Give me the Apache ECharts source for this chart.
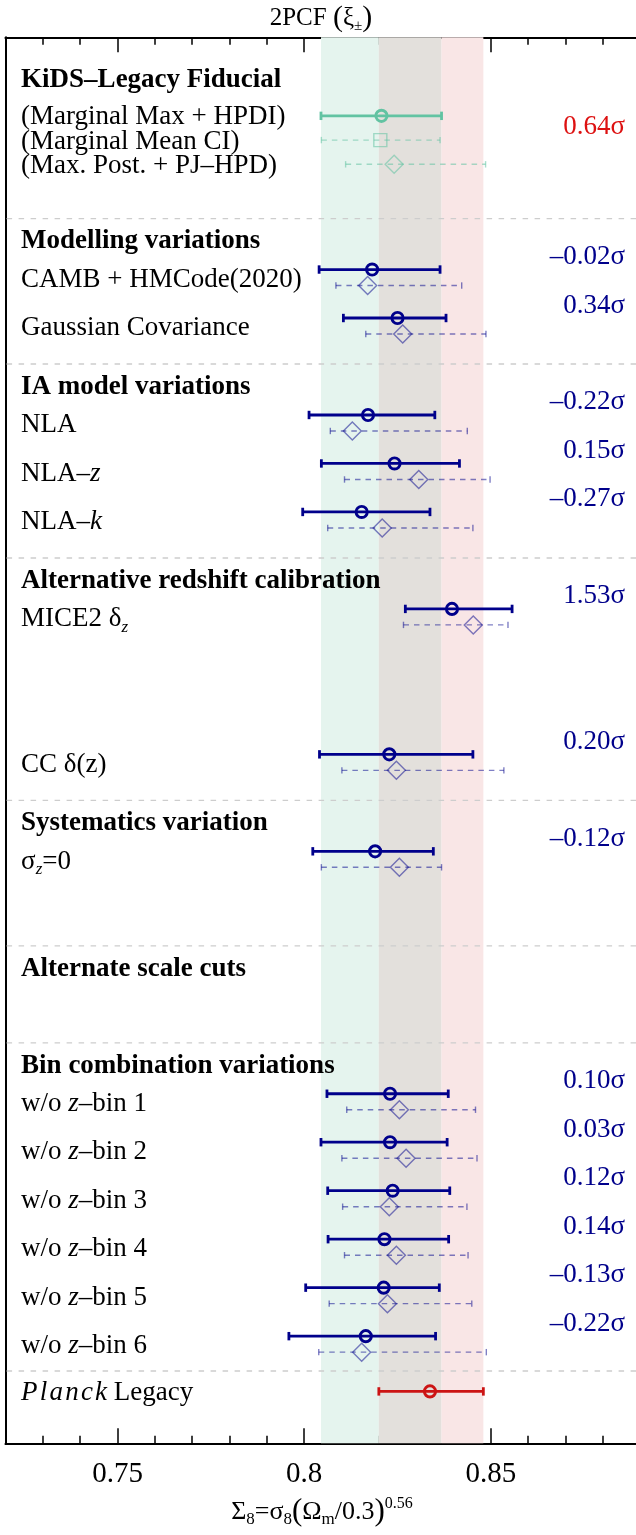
<!DOCTYPE html>
<html>
<head>
<meta charset="utf-8">
<script src="https://cdn.jsdelivr.net/npm/echarts@6/dist/echarts.min.js"></script>
<style>
  html, body { margin: 0; padding: 0; background: #fff; }
  #chart { width: 636px; height: 1535px; }
</style>
</head>
<body>
<div id="chart"></div>
<script>
// ---------------------------------------------------------------
// Σ8 constraints from the KiDS-Legacy 2PCF (ξ±) analysis and its
// robustness tests, with the Planck Legacy value for comparison.
// ---------------------------------------------------------------

// Fiducial result, three summary statistics
const fiducialLabels = ['(Marginal Max + HPDI)', '(Marginal Mean CI)', '(Max. Post. + PJ–HPD)'];
const fiducialCenter = [0.8207, 0.8204, 0.8241];
const fiducialLow    = [0.8045, 0.8046, 0.8111];
const fiducialHigh   = [0.8368, 0.8364, 0.8486];
const fiducialTension = '0.64σ';

// Groups of analysis variations ('' marks an empty slot)
const groupTitles = ['Modelling variations', 'IA model variations', 'Alternative redshift calibration',
                     'Systematics variation', 'Alternate scale cuts', 'Bin combination variations'];
const groupSizes  = [2, 3, 4, 2, 1, 6];

const rowLabels = [
  'CAMB + HMCode(2020)', 'Gaussian Covariance',
  'NLA', 'NLA–{i|z}', 'NLA–{i|k}',
  'MICE2 δ{sub|z}', '', '', 'CC δ(z)',
  'σ{sub|z}=0', '',
  '',
  'w/o {i|z}–bin 1', 'w/o {i|z}–bin 2', 'w/o {i|z}–bin 3',
  'w/o {i|z}–bin 4', 'w/o {i|z}–bin 5', 'w/o {i|z}–bin 6'
];

// Marginal maximum + HPDI
const hpdiCenter = [0.8182, 0.8250, 0.8171, 0.8242, 0.8154, 0.8396, null, null, 0.8228, 0.8190, null, null,
                    0.8230, 0.8230, 0.8237, 0.8215, 0.8213, 0.8165];
const hpdiLow    = [0.8040, 0.8105, 0.8013, 0.8046, 0.7996, 0.8271, null, null, 0.8041, 0.8023, null, null,
                    0.8061, 0.8045, 0.8063, 0.8064, 0.8004, 0.7959];
const hpdiHigh   = [0.8364, 0.8380, 0.8350, 0.8416, 0.8337, 0.8557, null, null, 0.8452, 0.8346, null, null,
                    0.8386, 0.8383, 0.8390, 0.8387, 0.8362, 0.8352];

// Maximum posterior + PJ-HPD
const mapCenter = [0.8170, 0.8264, 0.8129, 0.8307, 0.8209, 0.8453, null, null, 0.8247, 0.8255, null, null,
                   0.8255, 0.8273, 0.8228, 0.8247, 0.8223, 0.8154];
const mapLow    = [0.8085, 0.8165, 0.8070, 0.8108, 0.8063, 0.8266, null, null, 0.8101, 0.8046, null, null,
                   0.8114, 0.8101, 0.8103, 0.8108, 0.8067, 0.8039];
const mapHigh   = [0.8422, 0.8487, 0.8437, 0.8498, 0.8452, 0.8546, null, null, 0.8535, 0.8368, null, null,
                   0.8459, 0.8463, 0.8436, 0.8439, 0.8449, 0.8488];

// Shift relative to the fiducial
const tensions = ['–0.02σ', '0.34σ', '–0.22σ', '0.15σ', '–0.27σ', '1.53σ', '', '', '0.20σ', '–0.12σ', '', '',
                  '0.10σ', '0.03σ', '0.12σ', '0.14σ', '–0.13σ', '–0.22σ'];

// Planck Legacy
const planckLabel  = '{p|P}{p|l}{p|a}{p|n}{p|c}{k|k} Legacy';
const planckCenter = 0.8337;
const planckLow    = 0.8200;
const planckHigh   = 0.8480;

// Axis
const xTickValues = [0.75, 0.8, 0.85];
const xTickLabels = ['0.75', '0.8', '0.85'];
const xMinorTicks = [0.73, 0.74, 0.76, 0.77, 0.78, 0.79, 0.81, 0.82, 0.83, 0.84, 0.86, 0.87, 0.88];
const xMin = 0.72, xMax = 0.8889;
const topTitle = '2PCF {b|(}ξ{s|±}{b|)}';
const axisTitle = 'Σ{s|8}=σ{s|8}{b|(}Ω{s|m}/0.3{b|)}{u|0.56}';

// ---------------- layout of the rows (in row units) ----------------
const FONT = '"Liberation Serif"';
const NAVY = '#00008b';
const NAVY_LIGHT = 'rgba(0,0,139,0.5)';
const GREEN = '#62c3a2';
const GREEN_LIGHT = 'rgba(98,195,162,0.55)';
const RED = '#cc1414';
const Y_MAX = 29;

const fidHeaderY = 0.88;
const fidRowY = fiducialCenter.map((_, i) => 1.62 + 0.5 * i);
const rowY = [], headerY = [], sepY = [];
{
  let y = 4.79;
  groupSizes.forEach(n => {
    sepY.push(y - 1.05);
    headerY.push(y - 0.58);
    for (let i = 0; i < n; i++) { rowY.push(y); y += 1; }
    y += 1;
  });
}
const lastRow = rowY[rowY.length - 1];
sepY.push(lastRow + 0.72);
const planckY = lastRow + 1.14;
const DASH_OFF = 0.33;

// ---------------- text items ----------------
function f(size, weight, style) {
  return (style || 'normal') + ' ' + (weight || 'normal') + ' ' + size + 'px ' + FONT;
}
const richRow = {
  i:   { font: f(27, 'normal', 'italic'), fill: '#000' },
  sub: { font: f(17, 'normal', 'italic'), fill: '#000', lineHeight: 17, verticalAlign: 'bottom' },
  p:   { font: f(27, 'normal', 'italic'), fill: '#000', padding: [0, 2.2, 0, 0] },
  k:   { font: f(27, 'normal', 'italic'), fill: '#000' }
};

const textItems = [];
textItems.push({ y: fidHeaderY, text: 'KiDS–Legacy Fiducial', kind: 'header' });
fiducialLabels.forEach((t, i) => textItems.push({ y: fidRowY[i] + 0.03, text: t, kind: 'row' }));
textItems.push({ y: fidRowY[0] + 0.22, text: fiducialTension, kind: 'tensionRed' });
groupTitles.forEach((t, g) => textItems.push({ y: headerY[g], text: t, kind: 'header' }));
rowLabels.forEach((t, i) => { if (t) textItems.push({ y: rowY[i] + 0.21, text: t, kind: 'row' }); });
tensions.forEach((t, i) => { if (t) textItems.push({ y: rowY[i] - 0.26, text: t, kind: 'tension' }); });
textItems.push({ y: planckY + 0.03, text: planckLabel, kind: 'row' });

// ---------------- error-bar data ----------------
const hpdiData = [], mapData = [];
hpdiCenter.forEach((c, i) => {
  if (c == null) return;
  hpdiData.push([c, hpdiLow[i], hpdiHigh[i], rowY[i]]);
  mapData.push([mapCenter[i], mapLow[i], mapHigh[i], rowY[i] + DASH_OFF]);
});
const fidMaxData  = [[fiducialCenter[0], fiducialLow[0], fiducialHigh[0], fidRowY[0]]];
const fidMeanData = [[fiducialCenter[1], fiducialLow[1], fiducialHigh[1], fidRowY[1]]];
const fidPostData = [[fiducialCenter[2], fiducialLow[2], fiducialHigh[2], fidRowY[2]]];
const planckData  = [[planckCenter, planckLow, planckHigh, planckY]];

// shaded bands: fiducial-only, overlap, Planck-only
const bandData = [
  [fiducialLow[0], planckLow, 0],
  [planckLow, fiducialHigh[0], 1],
  [fiducialHigh[0], planckHigh, 2]
];
const bandColors = ['#e5f4ee', '#e3e0dc', '#f9e6e6'];

// ---------------- series builders ----------------
function errorBars(data, st) {
  return {
    type: 'custom',
    coordinateSystem: 'cartesian2d',
    data: data,
    z: 5,
    silent: true,
    renderItem: function (params, api) {
      const c = api.value(0), lo = api.value(1), hi = api.value(2), y = api.value(3);
      const a = api.coord([lo, y]), b = api.coord([hi, y]), m = api.coord([c, y]);
      const h = st.cap;
      const children = [
        { type: 'line', shape: { x1: a[0], y1: a[1], x2: b[0], y2: b[1] },
          style: { stroke: st.color, lineWidth: st.width, lineDash: st.dash || null, fill: null } },
        { type: 'line', shape: { x1: a[0], y1: a[1] - h, x2: a[0], y2: a[1] + h },
          style: { stroke: st.color, lineWidth: st.capWidth, fill: null } },
        { type: 'line', shape: { x1: b[0], y1: b[1] - h, x2: b[0], y2: b[1] + h },
          style: { stroke: st.color, lineWidth: st.capWidth, fill: null } }
      ];
      const mk = { stroke: st.color, lineWidth: st.markerWidth, fill: 'none' };
      if (st.marker === 'circle') {
        children.push({ type: 'circle', shape: { cx: m[0], cy: m[1], r: st.size }, style: mk });
      } else if (st.marker === 'square') {
        const s = st.size;
        children.push({ type: 'rect', shape: { x: m[0] - s, y: m[1] - s, width: 2 * s, height: 2 * s }, style: mk });
      } else {
        const s = st.size;
        children.push({ type: 'polygon',
          shape: { points: [[m[0], m[1] - s], [m[0] + s, m[1]], [m[0], m[1] + s], [m[0] - s, m[1]]] }, style: mk });
      }
      return { type: 'group', children: children };
    }
  };
}

const solidStyle = (color) => ({ color: color, width: 2.8, cap: 4.2, capWidth: 2.8, marker: 'circle', size: 5.6, markerWidth: 2.9 });
const dashStyle = (color, marker, size) => ({ color: color, width: 1.4, dash: [5.5, 5], cap: 3.2, capWidth: 1.4,
                                               marker: marker, size: size, markerWidth: 1.4 });

const bandSeries = {
  type: 'custom',
  coordinateSystem: 'cartesian2d',
  data: bandData,
  z: 1,
  silent: true,
  renderItem: function (params, api) {
    const p0 = api.coord([api.value(0), 0]);
    const p1 = api.coord([api.value(1), Y_MAX]);
    return { type: 'rect',
      shape: { x: p0[0], y: p0[1], width: p1[0] - p0[0], height: p1[1] - p0[1] },
      style: { fill: bandColors[api.value(2)] } };
  }
};

const sepSeries = {
  type: 'custom',
  coordinateSystem: 'cartesian2d',
  data: sepY.map(y => [xMin, y]),
  z: 2,
  silent: true,
  renderItem: function (params, api) {
    const cs = params.coordSys;
    const p = api.coord([xMin, api.value(1)]);
    return { type: 'line',
      shape: { x1: cs.x + 1, y1: p[1], x2: cs.x + cs.width, y2: p[1] },
      style: { stroke: '#cdcdcd', lineWidth: 1.4, lineDash: [5.5, 6.5], fill: null } };
  }
};

const textSeries = {
  type: 'custom',
  coordinateSystem: 'cartesian2d',
  data: textItems.map(t => [xMin, t.y]),
  z: 6,
  silent: true,
  clip: false,
  renderItem: function (params, api) {
    const cs = params.coordSys;
    const item = textItems[params.dataIndex];
    const p = api.coord([xMin, api.value(1)]);
    const base = { text: item.text, rich: richRow, verticalAlign: 'middle', lineHeight: 34 };
    if (item.kind === 'header') {
      Object.assign(base, { x: cs.x + 15.5, y: p[1], align: 'left', font: f(27, 'bold'), fill: '#000' });
    } else if (item.kind === 'row') {
      Object.assign(base, { x: cs.x + 15.5, y: p[1], align: 'left', font: f(27), fill: '#000' });
    } else {
      Object.assign(base, { x: cs.x + cs.width - 11, y: p[1], align: 'right', font: f(27),
                            fill: item.kind === 'tensionRed' ? '#dd1111' : NAVY });
    }
    return { type: 'text', style: base };
  }
};

// ---------------- axes ----------------
function xAxisDef(position, ticks, len, withLabels) {
  return {
    type: 'value',
    position: position,
    min: xMin,
    max: xMax,
    axisLine: { show: true, onZero: false, lineStyle: { color: '#000', width: 2 } },
    axisTick: { show: true, inside: true, length: len, customValues: ticks,
                lineStyle: { color: '#000', width: 1.5 } },
    axisLabel: withLabels ? {
      show: true, customValues: xTickValues, margin: 17,
      formatter: v => xTickLabels[xTickValues.findIndex(t => Math.abs(t - v) < 1e-9)] || '',
      fontFamily: FONT, fontSize: 29, color: '#000'
    } : { show: false },
    splitLine: { show: false }
  };
}

const option = {
  animation: false,
  backgroundColor: '#fff',
  grid: { left: 5.6, right: 0, top: 37.3, bottom: 91.7, containLabel: false },
  xAxis: [
    xAxisDef('bottom', xTickValues, 15, true),
    xAxisDef('bottom', xMinorTicks, 7.5, false),
    xAxisDef('top', xTickValues, 15, false),
    xAxisDef('top', xMinorTicks, 7.5, false)
  ],
  yAxis: {
    type: 'value', inverse: true, min: 0, max: Y_MAX,
    axisLine: { show: true, onZero: false, lineStyle: { color: '#000', width: 2 } },
    axisTick: { show: false }, axisLabel: { show: false }, splitLine: { show: false }
  },
  graphic: [
    { type: 'text', x: 321, y: 18, z: 10,
      style: { text: topTitle, font: f(25), fill: '#000', align: 'center', verticalAlign: 'middle', lineHeight: 32,
               rich: { s: { font: f(15), fill: '#000', lineHeight: 15, verticalAlign: 'bottom' },
                       b: { font: f(30), fill: '#000' } } } },
    { type: 'text', x: 322, y: 1512, z: 10,
      style: { text: axisTitle, font: f(26), fill: '#000', align: 'center', verticalAlign: 'middle', lineHeight: 32,
               rich: { s: { font: f(17), fill: '#000', lineHeight: 16, verticalAlign: 'bottom' },
                       u: { font: f(16), fill: '#000', lineHeight: 16, verticalAlign: 'top' },
                       b: { font: f(31), fill: '#000' } } } }
  ],
  series: [
    bandSeries,
    sepSeries,
    errorBars(fidMaxData, solidStyle(GREEN)),
    errorBars(fidMeanData, dashStyle(GREEN_LIGHT, 'square', 6.5)),
    errorBars(fidPostData, dashStyle(GREEN_LIGHT, 'diamond', 9)),
    errorBars(hpdiData, solidStyle(NAVY)),
    errorBars(mapData, dashStyle(NAVY_LIGHT, 'diamond', 9)),
    errorBars(planckData, solidStyle(RED)),
    textSeries
  ]
};

const chart = echarts.init(document.getElementById('chart'), null, { renderer: 'canvas', width: 636, height: 1535 });
chart.setOption(option);
</script>
</body>
</html>
